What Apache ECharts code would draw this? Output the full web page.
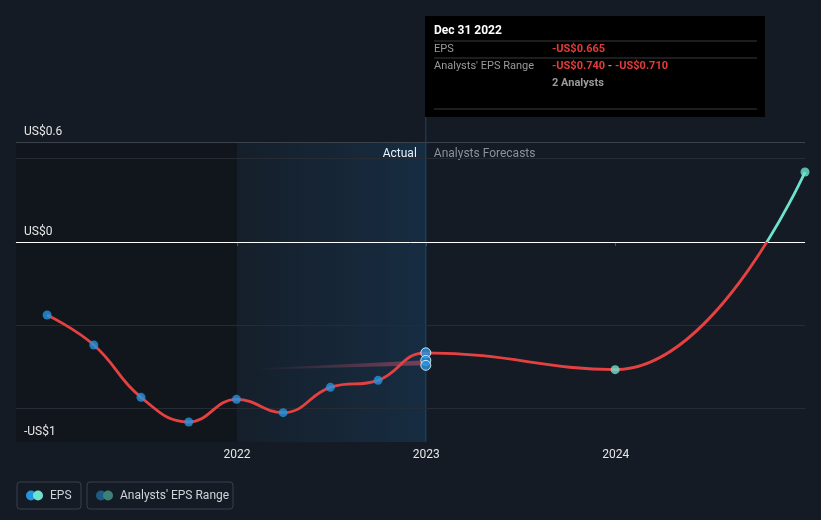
<!DOCTYPE html>
<html>
<head>
<meta charset="utf-8">
<script src="https://cdn.jsdelivr.net/npm/echarts@6/dist/echarts.min.js"></script>
<style>
html,body{margin:0;padding:0;background:#151b24;}
#chart{width:821px;height:520px;}
</style>
</head>
<body>
<div id="chart"></div>
<script>
// ---- data ----
var actualDates = ['2020-12-31','2021-03-31','2021-06-30','2021-09-30','2021-12-31','2022-03-31','2022-06-30','2022-09-30','2022-12-31'];
var actualEps = [-0.438, -0.618, -0.932, -1.08, -0.944, -1.024, -0.872, -0.83, -0.665];
var forecastDates = ['2023-12-31','2024-12-31'];
var forecastEps = [-0.766, 0.42];
var rangeDates = ['2022-02-01','2022-12-31'];
var rangeLow = [-0.766, -0.74];
var rangeHigh = [-0.761, -0.71];
var hoverDate = '2022-12-31';
var hoverValues = [-0.665, -0.71, -0.74];
var xTickLabels = ['2022-01-01','2023-01-01','2024-01-01'];
var yTickValues = [0.6, 0, -1.2];
var yTickLabels = ['US$0.6', 'US$0', '-US$1'];
var gridValues = [0.5, -0.5, -1];

var RED = '#e64141', TEAL = '#6de3cf', BLUE = '#2394e0';
var FONT = 'Roboto, "Noto Sans", sans-serif';

function ts(d){ return new Date(d + 'T00:00:00Z').getTime(); }

var lineData = actualDates.map(function(d,i){return [ts(d), actualEps[i]];})
  .concat(forecastDates.map(function(d,i){return [ts(d), forecastEps[i]];}));
var rangeData = rangeDates.map(function(d,i){return [ts(d), rangeLow[i], rangeHigh[i]];});

var chart = echarts.init(document.getElementById('chart'), null, {renderer:'canvas'});

var option = {
  backgroundColor: '#151b24',
  animation: false,
  textStyle: {fontFamily: FONT},
  grid: {left: 16, right: 16, top: 142, bottom: 78},
  xAxis: {
    type: 'value',
    min: ts('2020-11-01'),
    max: ts('2024-12-31'),
    axisLine: {show: true, lineStyle: {color: '#3c414a', width: 1}},
    axisTick: {show: true, length: 4, lineStyle: {color: '#4a4f58'}, customValues: xTickLabels.map(ts)},
    axisLabel: {
      color: '#e6e6e6', fontSize: 12, fontFamily: FONT, margin: 7,
      customValues: xTickLabels.map(ts),
      formatter: function(v){ return String(new Date(v).getUTCFullYear()); }
    },
    splitLine: {show: false}
  },
  yAxis: {
    type: 'value',
    min: -1.2, max: 0.6, interval: 0.3,
    axisLine: {show: false},
    axisTick: {show: false},
    splitLine: {show: false},
    axisLabel: {
      inside: true, margin: 8, color: '#e6e6e6', fontSize: 12, fontFamily: FONT,
      verticalAlign: 'bottom', padding: [0,0,4,0],
      customValues: yTickValues,
      formatter: function(v){
        for (var i=0;i<yTickValues.length;i++){ if (Math.abs(v-yTickValues[i])<1e-6) return yTickLabels[i]; }
        return '';
      }
    },
    z: 10
  },
  visualMap: {
    type: 'piecewise', show: false, seriesIndex: 2, dimension: 1,
    pieces: [{gte: -100, lt: 0, color: RED}, {gte: 0, lte: 100, color: TEAL}]
  },
  series: [
    {
      name: 'bg', type: 'line', data: [], symbol: 'none', silent: true, z: 1,
      markArea: {
        silent: true,
        data: [
          [{xAxis: ts('2020-11-01'), itemStyle: {color: 'rgba(0,0,0,0.17)'}}, {xAxis: ts('2022-01-01')}],
          [{xAxis: ts('2022-01-01'), itemStyle: {color: new echarts.graphic.LinearGradient(0,0,1,0,[
            {offset:0, color:'rgba(33,150,243,0.03)'},{offset:1, color:'rgba(33,150,243,0.14)'}])}},
           {xAxis: ts('2023-01-01')}]
        ]
      },
      markLine: {
        silent: true, symbol: ['none','none'], label: {show: false},
        data: gridValues.map(function(v){return {yAxis: v, lineStyle: {color: '#262b34', width: 1, type: 'solid'}};})
          .concat([{yAxis: 0.6, lineStyle: {color: '#3c414a', width: 1, type: 'solid'}},
                   {yAxis: 0, lineStyle: {color: '#ffffff', width: 1, type: 'solid'}}])
      }
    },
    {
      name: "Analysts' EPS Range", type: 'custom', data: rangeData, silent: true, z: 3,
      renderItem: function(params, api){
        if (params.dataIndex !== 0) return null;
        var top = [], bot = [];
        for (var i=0;i<rangeData.length;i++){
          top.push(api.coord([rangeData[i][0], rangeData[i][2]]));
          bot.unshift(api.coord([rangeData[i][0], rangeData[i][1]]));
        }
        return {
          type: 'polygon',
          shape: {points: top.concat(bot)},
          style: {fill: new echarts.graphic.LinearGradient(0,0,1,0,[
            {offset:0, color:'rgba(200,80,110,0)'},{offset:1, color:'rgba(200,80,110,0.55)'}])}
        };
      }
    },
    {
      name: 'EPS', type: 'line', data: lineData, smooth: 0.45,
      symbol: 'none', lineStyle: {width: 2.8}, z: 5
    },
    {
      name: 'EPSActualDots', type: 'scatter', z: 6,
      data: actualDates.slice(0, actualDates.length-1).map(function(d,i){return [ts(d), actualEps[i]];}),
      symbolSize: 9, itemStyle: {color: BLUE}
    },
    {
      name: 'EPSForecastDots', type: 'scatter', z: 6,
      data: forecastDates.map(function(d,i){return [ts(d), forecastEps[i]];}),
      symbolSize: 9, itemStyle: {color: TEAL}
    },
    {
      name: 'HoverDots', type: 'scatter', z: 7,
      data: hoverValues.map(function(v){return [ts(hoverDate), v];}),
      symbolSize: 10, itemStyle: {color: BLUE, borderColor: '#ffffff', borderWidth: 1}
    }
  ]
};
chart.setOption(option);

var hx = chart.convertToPixel({xAxisIndex: 0}, ts(hoverDate));
var gTop = chart.convertToPixel({yAxisIndex: 0}, 0.6);
var gBot = chart.convertToPixel({yAxisIndex: 0}, -1.2);

chart.setOption({
  graphic: [
    {type: 'line', z: 1, shape: {x1: hx, y1: 117, x2: hx, y2: gBot}, style: {stroke: '#1f4566', lineWidth: 1}, silent: true},
    {type: 'text', x: hx - 9, y: gTop + 12, style: {text: 'Actual', fill: '#ffffff', font: '12px ' + FONT, align: 'right', verticalAlign: 'middle'}},
    {type: 'text', x: hx + 8, y: gTop + 12, style: {text: 'Analysts Forecasts', fill: '#8b9099', font: '12px ' + FONT, align: 'left', verticalAlign: 'middle'}},
    // tooltip box
    {type: 'group', x: 425, y: 16, children: [
      {type: 'rect', shape: {x: 0, y: 0, width: 340, height: 101}, style: {fill: '#000000'}},
      {type: 'text', x: 9, y: 15, style: {text: 'Dec 31 2022', fill: '#ffffff', font: 'bold 12px ' + FONT, verticalAlign: 'middle'}},
      {type: 'line', shape: {x1: 9, y1: 25, x2: 332, y2: 25}, style: {stroke: '#3a3a3a', lineWidth: 1}},
      {type: 'text', x: 9, y: 33, style: {text: 'EPS', fill: '#9a9a9a', font: '11px ' + FONT, verticalAlign: 'middle'}},
      {type: 'text', x: 127, y: 33, style: {text: '-US$0.665', fill: '#e53b3b', font: 'bold 11px ' + FONT, verticalAlign: 'middle'}},
      {type: 'line', shape: {x1: 9, y1: 42, x2: 332, y2: 42}, style: {stroke: '#3a3a3a', lineWidth: 1}},
      {type: 'text', x: 9, y: 50, style: {text: "Analysts' EPS Range", fill: '#9a9a9a', font: '11px ' + FONT, verticalAlign: 'middle'}},
      {type: 'text', x: 127, y: 50, style: {
        text: '{r|-US$0.740}{g| - }{r|-US$0.710}', verticalAlign: 'middle', font: 'bold 11px ' + FONT,
        rich: {r: {fill: '#e53b3b', font: 'bold 11px ' + FONT}, g: {fill: '#9a9a9a', font: 'bold 11px ' + FONT}}}},
      {type: 'text', x: 127, y: 67, style: {text: '2 Analysts', fill: '#9a9a9a', font: 'bold 11px ' + FONT, verticalAlign: 'middle'}},
      {type: 'line', shape: {x1: 9, y1: 93, x2: 332, y2: 93}, style: {stroke: '#3a3a3a', lineWidth: 1}}
    ]},
    // legend
    {type: 'group', x: 17, y: 482, children: [
      {type: 'rect', shape: {x: 0, y: 0, width: 64, height: 27, r: 3}, style: {fill: 'transparent', stroke: '#3a3f48', lineWidth: 1}},
      {type: 'circle', shape: {cx: 14, cy: 13.5, r: 5}, style: {fill: BLUE}},
      {type: 'circle', shape: {cx: 21, cy: 13.5, r: 5}, style: {fill: TEAL}},
      {type: 'text', x: 33, y: 13.5, style: {text: 'EPS', fill: '#d0d3d8', font: '12px ' + FONT, verticalAlign: 'middle'}},
      {type: 'rect', shape: {x: 70, y: 0, width: 146, height: 27, r: 3}, style: {fill: 'transparent', stroke: '#3a3f48', lineWidth: 1}},
      {type: 'circle', shape: {cx: 84, cy: 13.5, r: 5}, style: {fill: '#1d5a86'}},
      {type: 'circle', shape: {cx: 91, cy: 13.5, r: 5}, style: {fill: '#3b8178'}},
      {type: 'text', x: 103, y: 13.5, style: {text: "Analysts' EPS Range", fill: '#d0d3d8', font: '12px ' + FONT, verticalAlign: 'middle'}}
    ]}
  ]
});
</script>
</body>
</html>
